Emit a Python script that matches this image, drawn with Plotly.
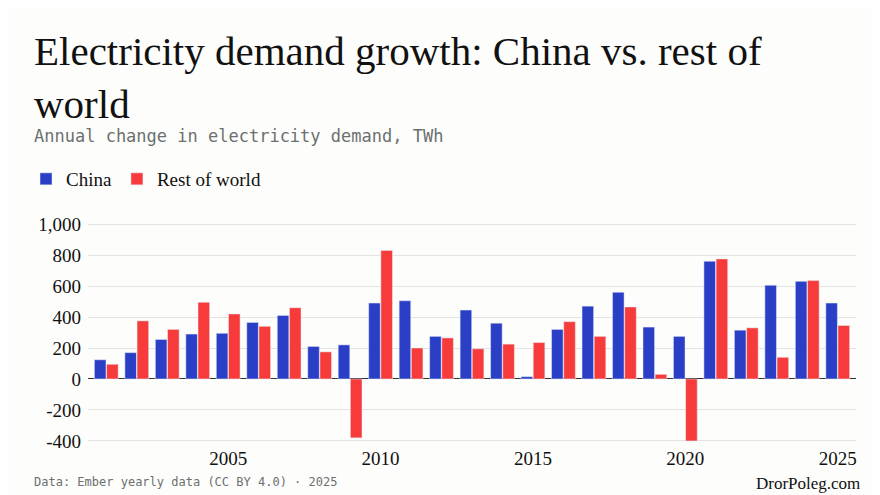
import plotly.graph_objects as go

years = list(range(2001, 2026))
china = [124, 170, 255, 290, 295, 365, 410, 210, 220, 490, 505, 275, 445, 360, 15, 320, 470, 560, 335, 275, 760, 315, 605, 630, 490]
rest = [95, 375, 320, 495, 420, 340, 460, 175, -380, 830, 200, 265, 195, 225, 235, 370, 275, 465, 30, -400, 775, 330, 140, 635, 345]

L, R, T, B = 80, 32, 210, 58
W, H = 880, 495
PW, PH = W - L - R, H - T - B
def px(x): return (x - L) / PW
def py(y): return (H - B - y) / PH

fig = go.Figure()
fig.add_bar(x=years, y=china, name="China", marker_color="#2a3fc6")
fig.add_bar(x=years, y=rest, name="Rest of world", marker_color="#f73b3b")

serif = "Liberation Serif, DejaVu Serif, serif"
mono = "DejaVu Sans Mono, Liberation Mono, monospace"
fig.update_layout(
    width=W, height=H, barmode="group", bargap=0.2, bargroupgap=0.05,
    paper_bgcolor="#fdfdfb", plot_bgcolor="#fdfdfb",
    margin=dict(l=L, r=R, t=T, b=B),
    font=dict(family=serif, size=19, color="#111"),
    legend=dict(orientation="h", x=px(18), xanchor="left", y=py(171), yanchor="middle",
                font=dict(size=19, family=serif), traceorder="normal"),
    xaxis=dict(range=[2000.4, 2025.6], tickvals=[2005, 2010, 2015, 2020, 2025],
               showgrid=False, ticks="", tickfont=dict(size=19, family=serif)),
    yaxis=dict(range=[-426, 1039], tickvals=[-400, -200, 0, 200, 400, 600, 800, 1000],
               ticktext=["-400", "-200", "0", "200", "400", "600", "800", "1,000"],
               gridcolor="#e3e3e3", zeroline=True, zerolinecolor="#333", zerolinewidth=1,
               tickfont=dict(size=19, family=serif), ticklabelstandoff=6),
    annotations=[
        dict(text="Electricity demand growth: China vs. rest of<br>world", x=px(24), y=py(18),
             xref="paper", yref="paper", xanchor="left", yanchor="top", showarrow=False, align="left",
             font=dict(size=41, family=serif, color="#111")),
        dict(text="Annual change in electricity demand, TWh", x=px(24), y=py(128), xref="paper", yref="paper",
             xanchor="left", yanchor="middle", showarrow=False, font=dict(size=17, family=mono, color="#6b7070")),
        dict(text="Data: Ember yearly data (CC BY 4.0) · 2025", x=px(24), y=py(474), xref="paper", yref="paper",
             xanchor="left", yanchor="middle", showarrow=False, font=dict(size=12, family=mono, color="#6b7070")),
        dict(text="DrorPoleg.com", x=px(W - 26), y=py(475), xref="paper", yref="paper",
             xanchor="right", yanchor="middle", showarrow=False, font=dict(size=17, family=serif, color="#111")),
    ],
)
fig.write_html("out.html")
